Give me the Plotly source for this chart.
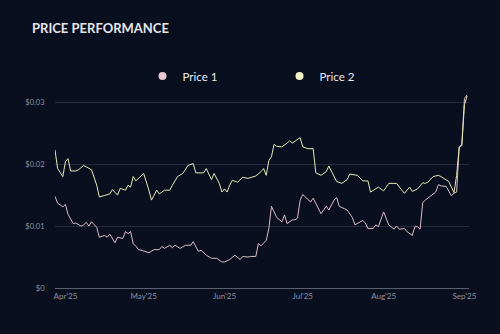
import plotly.graph_objects as go

# ---- data (dates and price values) ----
price1_dates = [
    "2025-03-28", "2025-03-29", "2025-03-31", "2025-04-01", "2025-04-02", "2025-04-04",
    "2025-04-05", "2025-04-07", "2025-04-08", "2025-04-09", "2025-04-10", "2025-04-11",
    "2025-04-13", "2025-04-14", "2025-04-16", "2025-04-17", "2025-04-18", "2025-04-20",
    "2025-04-21", "2025-04-23", "2025-04-24", "2025-04-25", "2025-04-26", "2025-04-27",
    "2025-04-28", "2025-04-29", "2025-04-30", "2025-05-03", "2025-05-05", "2025-05-07",
    "2025-05-08", "2025-05-09", "2025-05-11", "2025-05-12", "2025-05-13", "2025-05-15",
    "2025-05-17", "2025-05-19", "2025-05-20", "2025-05-22", "2025-05-23", "2025-05-25",
    "2025-05-27", "2025-05-29", "2025-05-31", "2025-06-01", "2025-06-03", "2025-06-05",
    "2025-06-07", "2025-06-08", "2025-06-10", "2025-06-11", "2025-06-13", "2025-06-14",
    "2025-06-15", "2025-06-17", "2025-06-18", "2025-06-19", "2025-06-21", "2025-06-22",
    "2025-06-23", "2025-06-24", "2025-06-25", "2025-06-27", "2025-06-28", "2025-06-29",
    "2025-06-30", "2025-07-01", "2025-07-03", "2025-07-04", "2025-07-05", "2025-07-08",
    "2025-07-10", "2025-07-11", "2025-07-13", "2025-07-14", "2025-07-15", "2025-07-16",
    "2025-07-18", "2025-07-20", "2025-07-21", "2025-07-24", "2025-07-25", "2025-07-26",
    "2025-07-28", "2025-07-29", "2025-07-30", "2025-08-01", "2025-08-03", "2025-08-05",
    "2025-08-06", "2025-08-07", "2025-08-09", "2025-08-10", "2025-08-12", "2025-08-13",
    "2025-08-14", "2025-08-15", "2025-08-16", "2025-08-17", "2025-08-19", "2025-08-21",
    "2025-08-22", "2025-08-23", "2025-08-25", "2025-08-26", "2025-08-27", "2025-08-28",
    "2025-08-29", "2025-08-30", "2025-08-31", "2025-09-01", "2025-09-02",
]
price1_values = [
    0.0148, 0.0137, 0.0131, 0.0135, 0.0119, 0.0104,
    0.0105, 0.0100, 0.0102, 0.0106, 0.0100, 0.0107,
    0.0098, 0.0082, 0.0085, 0.0082, 0.0087, 0.0073,
    0.0082, 0.0080, 0.0091, 0.0088, 0.0091, 0.0071,
    0.0068, 0.0062, 0.0061, 0.0057, 0.0062, 0.0062,
    0.0067, 0.0064, 0.0069, 0.0065, 0.0069, 0.0064,
    0.0069, 0.0069, 0.0075, 0.0059, 0.0061, 0.0053,
    0.0048, 0.0048, 0.0042, 0.0042, 0.0046, 0.0053,
    0.0046, 0.0051, 0.0050, 0.0051, 0.0051, 0.0072,
    0.0068, 0.0077, 0.0096, 0.0132, 0.0114, 0.0111,
    0.0107, 0.0118, 0.0104, 0.0110, 0.0110, 0.0113,
    0.0142, 0.0151, 0.0142, 0.0139, 0.0145, 0.0120,
    0.0132, 0.0126, 0.0142, 0.0146, 0.0132, 0.0130,
    0.0126, 0.0114, 0.0102, 0.0109, 0.0105, 0.0096,
    0.0096, 0.0102, 0.0099, 0.0123, 0.0102, 0.0095,
    0.0100, 0.0095, 0.0096, 0.0091, 0.0085, 0.0099,
    0.0099, 0.0095, 0.0138, 0.0142, 0.0148, 0.0155,
    0.0167, 0.0165, 0.0164, 0.0156, 0.0149, 0.0153,
    0.0155, 0.0228, 0.0232, 0.0306, 0.0312,
]

price2_dates = [
    "2025-03-28", "2025-03-29", "2025-03-31", "2025-04-01", "2025-04-02", "2025-04-03",
    "2025-04-05", "2025-04-06", "2025-04-08", "2025-04-10", "2025-04-11", "2025-04-13",
    "2025-04-14", "2025-04-18", "2025-04-19", "2025-04-21", "2025-04-22", "2025-04-24",
    "2025-04-25", "2025-04-26", "2025-04-27", "2025-04-28", "2025-04-29", "2025-05-01",
    "2025-05-03", "2025-05-04", "2025-05-06", "2025-05-07", "2025-05-09", "2025-05-11",
    "2025-05-12", "2025-05-14", "2025-05-16", "2025-05-18", "2025-05-20", "2025-05-21",
    "2025-05-24", "2025-05-25", "2025-05-27", "2025-05-28", "2025-05-30", "2025-05-31",
    "2025-06-01", "2025-06-02", "2025-06-03", "2025-06-04", "2025-06-06", "2025-06-08",
    "2025-06-10", "2025-06-12", "2025-06-13", "2025-06-15", "2025-06-16", "2025-06-17",
    "2025-06-18", "2025-06-19", "2025-06-20", "2025-06-21", "2025-06-23", "2025-06-25",
    "2025-06-26", "2025-06-27", "2025-06-29", "2025-06-30", "2025-07-01", "2025-07-03",
    "2025-07-05", "2025-07-06", "2025-07-08", "2025-07-10", "2025-07-11", "2025-07-12",
    "2025-07-14", "2025-07-16", "2025-07-18", "2025-07-19", "2025-07-22", "2025-07-24",
    "2025-07-26", "2025-07-27", "2025-07-29", "2025-07-30", "2025-08-01", "2025-08-03",
    "2025-08-05", "2025-08-06", "2025-08-08", "2025-08-09", "2025-08-11", "2025-08-12",
    "2025-08-14", "2025-08-16", "2025-08-17", "2025-08-18", "2025-08-20", "2025-08-22",
    "2025-08-23", "2025-08-25", "2025-08-26", "2025-08-27", "2025-08-28", "2025-08-29",
    "2025-08-30", "2025-08-31", "2025-09-01", "2025-09-02",
]
price2_values = [
    0.0223, 0.0193, 0.0180, 0.0204, 0.0209, 0.0189,
    0.0189, 0.0191, 0.0198, 0.0193, 0.0191, 0.0166,
    0.0147, 0.0152, 0.0159, 0.0150, 0.0161, 0.0158,
    0.0166, 0.0163, 0.0180, 0.0173, 0.0177, 0.0185,
    0.0158, 0.0142, 0.0158, 0.0152, 0.0158, 0.0158,
    0.0166, 0.0180, 0.0185, 0.0198, 0.0201, 0.0186,
    0.0186, 0.0193, 0.0175, 0.0185, 0.0169, 0.0155,
    0.0160, 0.0155, 0.0166, 0.0174, 0.0171, 0.0179,
    0.0177, 0.0179, 0.0181, 0.0188, 0.0193, 0.0182,
    0.0206, 0.0212, 0.0232, 0.0229, 0.0228, 0.0234,
    0.0238, 0.0234, 0.0240, 0.0243, 0.0228, 0.0225,
    0.0225, 0.0186, 0.0182, 0.0188, 0.0197, 0.0188,
    0.0172, 0.0169, 0.0175, 0.0184, 0.0182, 0.0173,
    0.0173, 0.0155, 0.0161, 0.0163, 0.0157, 0.0169,
    0.0169, 0.0169, 0.0158, 0.0153, 0.0163, 0.0156,
    0.0160, 0.0170, 0.0169, 0.0171, 0.0180, 0.0182,
    0.0180, 0.0174, 0.0172, 0.0163, 0.0154, 0.0182,
    0.0228, 0.0230, 0.0296, 0.0310,
]

series_names = ["Price 1", "Price 2"]
y_tick_values = [0, 0.01, 0.02, 0.03]
y_tick_labels = ["$0", "$0.01", "$0.02", "$0.03"]
title_text = "PRICE PERFORMANCE"

# ---- styling ----
BG = "#0a0f20"
C1_LINE = "#d9bcc3"
C1_DOT = "#e7c9cd"
C2_LINE = "#e6e8b4"
C2_DOT = "#f1f2c8"
FONT = "Lato"

fig = go.Figure()

fig.add_trace(go.Scatter(x=price1_dates, y=price1_values, mode="lines",
                         line=dict(color=C1_LINE, width=1), showlegend=False,
                         legendgroup="p1", name=series_names[0]))
fig.add_trace(go.Scatter(x=price2_dates, y=price2_values, mode="lines",
                         line=dict(color=C2_LINE, width=1), showlegend=False,
                         legendgroup="p2", name=series_names[1]))
# legend entries shown as dots
fig.add_trace(go.Scatter(x=[None], y=[None], mode="markers", name=series_names[0],
                         legendgroup="p1", marker=dict(color=C1_DOT, size=8)))
fig.add_trace(go.Scatter(x=[None], y=[None], mode="markers", name=series_names[1],
                         legendgroup="p2", marker=dict(color=C2_DOT, size=8)))

fig.update_layout(
    width=500, height=334,
    paper_bgcolor=BG, plot_bgcolor=BG,
    margin=dict(l=55, r=31, t=93, b=46, autoexpand=False),
    font=dict(family=FONT, color="#8d92a0", size=8),
    title=dict(text=title_text, x=32 / 500, xref="container", xanchor="left",
               y=1 - 28 / 334, yref="container", yanchor="middle",
               font=dict(family=FONT, size=13, weight="bold", color="#e2e5ec")),
    legend=dict(orientation="h", xref="container", yref="container",
                x=0.285, xanchor="left", y=1 - 76 / 334, yanchor="middle",
                entrywidth=92, entrywidthmode="pixels",
                itemwidth=30,
                font=dict(family=FONT, size=11.5, color="#e8eaf0"),
                bgcolor="rgba(0,0,0,0)"),
    showlegend=True,
)

fig.update_xaxes(
    type="date",
    range=["2025-03-28", "2025-09-02 18:00"],
    dtick="M1", tick0="2025-04-01", tickformat="%b'%y",
    showgrid=False, zeroline=False,
    showline=True, linecolor="#5b6070", linewidth=1,
    ticks="", tickfont=dict(size=8, color="#8d92a0"),
)
fig.update_yaxes(
    range=[0, 0.0315],
    tickvals=y_tick_values, ticktext=y_tick_labels,
    showgrid=True, gridcolor="#262b3d", gridwidth=1,
    zeroline=False, showline=False,
    ticks="outside", ticklen=8, tickcolor=BG,
    tickfont=dict(size=7.5, color="#8d92a0"),
)

fig.write_html("out.html")
